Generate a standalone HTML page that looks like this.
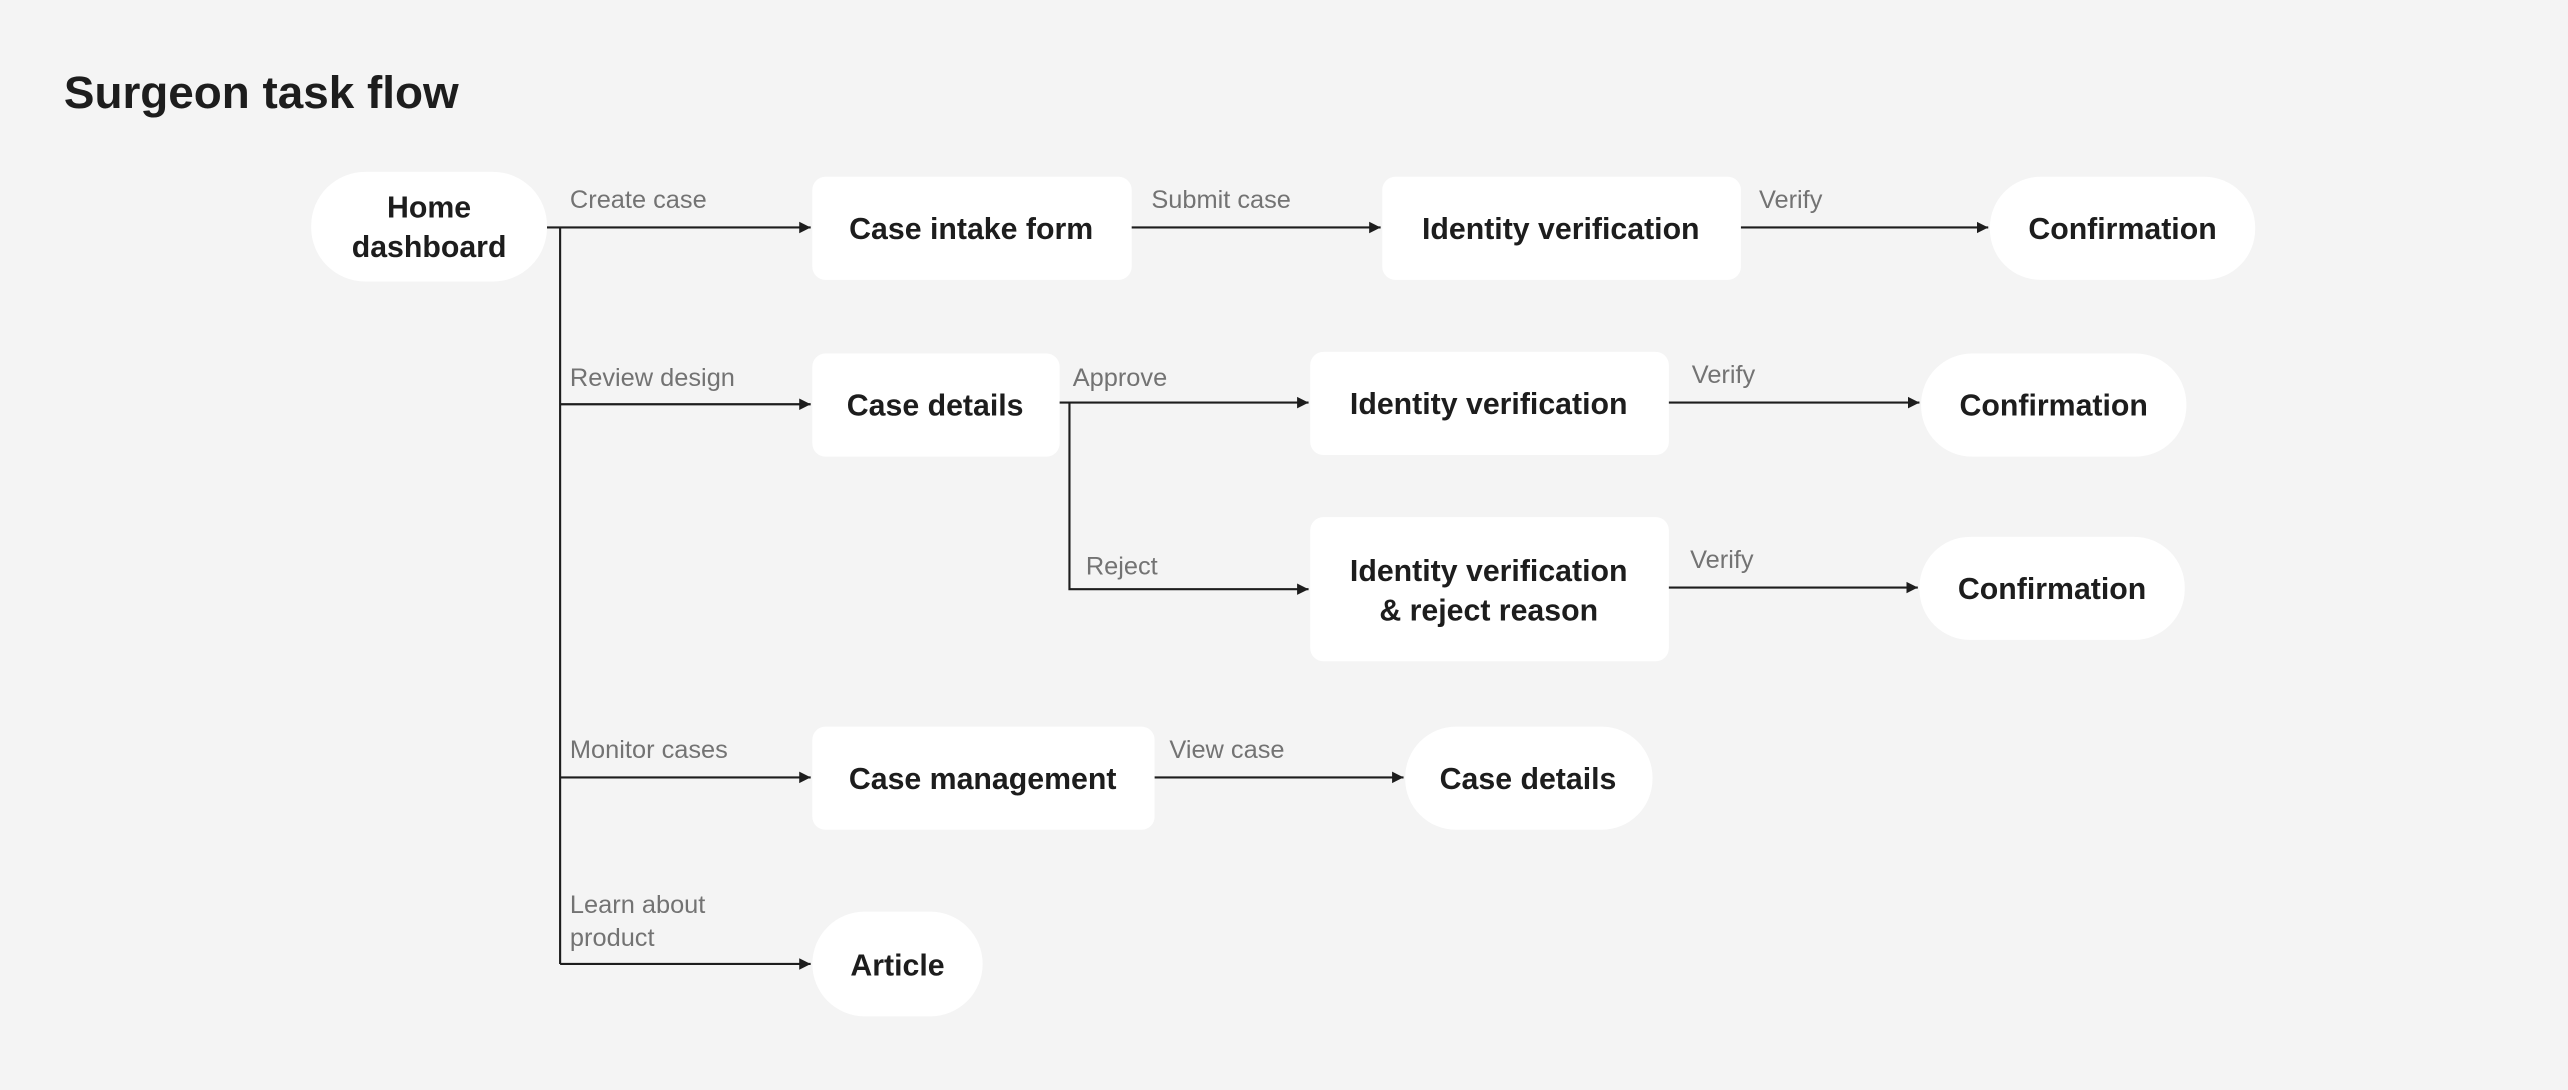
<!DOCTYPE html>
<html><head><meta charset="utf-8"><style>
html,body{margin:0;padding:0;background:#f4f4f4;}
svg{display:block;}
.n{font-family:"Liberation Sans",sans-serif;font-weight:bold;font-size:18.5px;fill:#1d1d1d;text-anchor:middle;}
.l{font-family:"Liberation Sans",sans-serif;font-size:15.5px;fill:#737373;}
.ln{stroke:#1d1d1d;stroke-width:1.3;fill:none;}
</style></head><body>
<svg width="2568" height="1090" viewBox="0 0 1568 666" preserveAspectRatio="none" xmlns="http://www.w3.org/2000/svg">
<defs><marker id="a" markerWidth="8" markerHeight="8" refX="7" refY="4" orient="auto" markerUnits="userSpaceOnUse"><path d="M0,0.5 L7,4 L0,7.5 z" fill="#1d1d1d"/></marker></defs>
<rect width="1568" height="666" fill="#f4f4f4"/>
<text x="39" y="66" style="font-family:'Liberation Sans',sans-serif;font-weight:bold;font-size:28px;fill:#1d1d1d">Surgeon task flow</text>

<!-- nodes -->
<rect x="190" y="105" width="144" height="67" rx="33" fill="#fff"/>
<text class="n" x="262" y="133">Home</text><text class="n" x="262" y="157">dashboard</text>
<rect x="496" y="108" width="195" height="63" rx="8" fill="#fff"/><text class="n" x="593" y="146">Case intake form</text>
<rect x="844" y="108" width="219" height="63" rx="8" fill="#fff"/><text class="n" x="953" y="146">Identity verification</text>
<rect x="1215" y="108" width="162" height="63" rx="31" fill="#fff"/><text class="n" x="1296" y="146">Confirmation</text>

<rect x="496" y="216" width="151" height="63" rx="8" fill="#fff"/><text class="n" x="571" y="254">Case details</text>
<rect x="800" y="215" width="219" height="63" rx="8" fill="#fff"/><text class="n" x="909" y="253">Identity verification</text>
<rect x="1173" y="216" width="162" height="63" rx="31" fill="#fff"/><text class="n" x="1254" y="254">Confirmation</text>

<rect x="800" y="316" width="219" height="88" rx="8" fill="#fff"/>
<text class="n" x="909" y="355">Identity verification</text><text class="n" x="909" y="379">&amp; reject reason</text>
<rect x="1172" y="328" width="162" height="63" rx="31" fill="#fff"/><text class="n" x="1253" y="366">Confirmation</text>

<rect x="496" y="444" width="209" height="63" rx="8" fill="#fff"/><text class="n" x="600" y="482">Case management</text>
<rect x="858" y="444" width="151" height="63" rx="31" fill="#fff"/><text class="n" x="933" y="482">Case details</text>

<rect x="496" y="557" width="104" height="64" rx="32" fill="#fff"/><text class="n" x="548" y="596">Article</text>

<!-- connectors -->
<path class="ln" d="M342,139 V589"/>
<path class="ln" d="M334,139 H495" marker-end="url(#a)"/>
<path class="ln" d="M691,139 H843" marker-end="url(#a)"/>
<path class="ln" d="M1063,139 H1214" marker-end="url(#a)"/>
<path class="ln" d="M342,247 H495" marker-end="url(#a)"/>
<path class="ln" d="M647,246 H799" marker-end="url(#a)"/>
<path class="ln" d="M653,246 V360 H799" marker-end="url(#a)"/>
<path class="ln" d="M1019,246 H1172" marker-end="url(#a)"/>
<path class="ln" d="M1019,359 H1171" marker-end="url(#a)"/>
<path class="ln" d="M342,475 H495" marker-end="url(#a)"/>
<path class="ln" d="M705,475 H857" marker-end="url(#a)"/>
<path class="ln" d="M342,589 H495" marker-end="url(#a)"/>

<!-- labels -->
<text class="l" x="348" y="127">Create case</text>
<text class="l" x="703" y="127">Submit case</text>
<text class="l" x="1074" y="127">Verify</text>
<text class="l" x="348" y="236">Review design</text>
<text class="l" x="655" y="236">Approve</text>
<text class="l" x="1033" y="234">Verify</text>
<text class="l" x="663" y="351">Reject</text>
<text class="l" x="1032" y="347">Verify</text>
<text class="l" x="348" y="463">Monitor cases</text>
<text class="l" x="714" y="463">View case</text>
<text class="l" x="348" y="558">Learn about</text>
<text class="l" x="348" y="578">product</text>
</svg>
</body></html>
